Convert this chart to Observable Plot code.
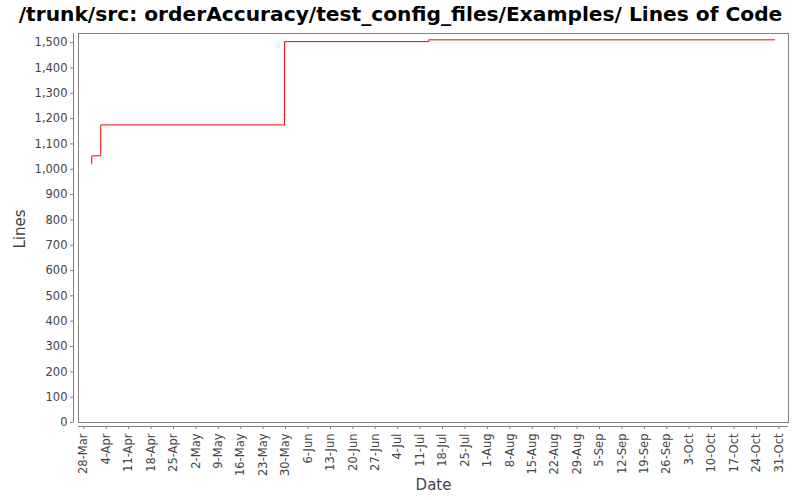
<!DOCTYPE html>
<html>
<head>
<meta charset="utf-8">
<script src="https://cdn.jsdelivr.net/npm/d3@7"></script>
<script src="https://cdn.jsdelivr.net/npm/@observablehq/plot@0.6"></script>
<style>
  html, body { margin: 0; padding: 0; background: #fff; }
  #chart svg { display: block; font-family: "DejaVu Sans", sans-serif; }
</style>
</head>
<body>
<div id="chart"></div>
<script>
const titleText = "/trunk/src: orderAccuracy/test_config_files/Examples/ Lines of Code";
const xLabel = "Date";
const yLabel = "Lines";

// step data (date, lines)
const dates = [
  "2011-03-30T10:00Z",
  "2011-03-30T12:00Z",
  "2011-04-02T07:00Z",
  "2011-05-29T16:00Z",
  "2011-07-13T17:00Z",
  "2011-10-29T17:00Z"
];
const lines = [1021, 1053, 1175, 1504, 1511, 1511];

const xTickDates = [
  "2011-03-28","2011-04-04","2011-04-11","2011-04-18","2011-04-25",
  "2011-05-02","2011-05-09","2011-05-16","2011-05-23","2011-05-30",
  "2011-06-06","2011-06-13","2011-06-20","2011-06-27","2011-07-04",
  "2011-07-11","2011-07-18","2011-07-25","2011-08-01","2011-08-08",
  "2011-08-15","2011-08-22","2011-08-29","2011-09-05","2011-09-12",
  "2011-09-19","2011-09-26","2011-10-03","2011-10-10","2011-10-17",
  "2011-10-24","2011-10-31"
];
const yTicks = [0,100,200,300,400,500,600,700,800,900,1000,1100,1200,1300,1400,1500];

const xDomain = [new Date("2011-03-26T08:24Z"), new Date("2011-11-03T00:00Z")];
const yDomain = [0, 1536];

const data = dates.map((d, i) => ({date: new Date(d), lines: lines[i]}));
const xTicks = xTickDates.map(d => new Date(d + "T00:00Z"));

const axisColor = "#808080";
const textColor = "#444444";

const chart = Plot.plot({
  width: 800,
  height: 500,
  marginLeft: 78,
  marginRight: 12,
  marginTop: 33,
  marginBottom: 78,
  style: {fontFamily: "DejaVu Sans, sans-serif", fontSize: "11.5px", color: textColor, background: "#fff"},
  x: {type: "utc", domain: xDomain},
  y: {domain: yDomain},
  marks: [
    Plot.frame({stroke: axisColor}),
    Plot.ruleX([xDomain[0]], {y1: yDomain[0], y2: yDomain[1], dx: -5, stroke: axisColor}),
    Plot.ruleY([0], {x1: xDomain[0], x2: xDomain[1], dy: 4, stroke: axisColor}),
    Plot.axisY({ticks: yTicks, tickFormat: d3.format(","), tickSize: 3, tickPadding: 3, dx: -5, stroke: axisColor, fill: textColor, label: null, fontSize: 11.5}),
    Plot.axisX({ticks: xTicks, tickFormat: d3.utcFormat("%-d-%b"), tickRotate: -90, tickSize: 3, tickPadding: 4, dy: 4, stroke: axisColor, fill: textColor, label: null, fontSize: 11.5}),
    Plot.line(data, {x: "date", y: "lines", curve: "step-after", stroke: "#ff0000", strokeWidth: 1}),
    Plot.text([yLabel], {text: d => d, frameAnchor: "left", dx: -58, dy: 1, rotate: -90, textAnchor: "middle", lineAnchor: "middle", fontSize: 15, fill: textColor}),
    Plot.text([xLabel], {text: d => d, frameAnchor: "bottom", dy: 63, textAnchor: "middle", lineAnchor: "middle", fontSize: 15, fill: textColor}),
    Plot.text([titleText], {text: d => d, frameAnchor: "top-left", dx: 322, dy: -19, textAnchor: "middle", lineAnchor: "middle", fontSize: 20.2, fontWeight: "bold", fill: "#000"})
  ]
});
document.getElementById("chart").appendChild(chart);
</script>
</body>
</html>
